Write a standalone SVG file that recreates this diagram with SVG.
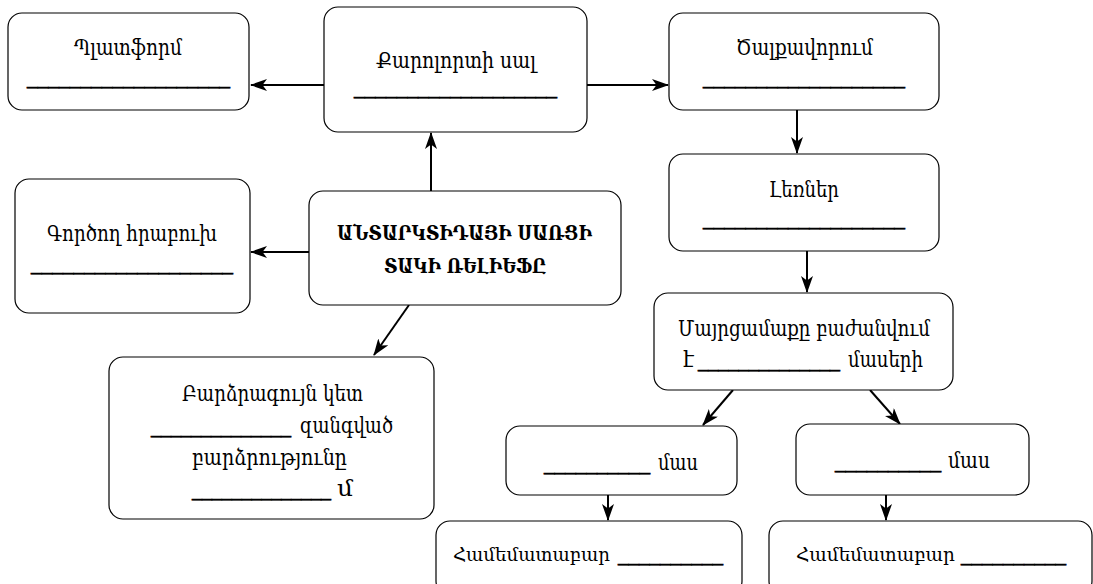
<svg xmlns="http://www.w3.org/2000/svg" width="1093" height="584" viewBox="0 0 1093 584">
<style>
.box{fill:#fff;stroke:#000;stroke-width:1.2}
.t{font-family:"DejaVu Serif","DejaVu Sans",serif;font-size:23px;fill:#000;text-anchor:start}
.b{font-family:"DejaVu Serif","DejaVu Sans",serif;font-size:21px;font-weight:bold;fill:#000}
.us{font-family:"DejaVu Sans",sans-serif;font-size:20px;fill:#000;stroke:#000;stroke-width:0.5}
.s{font-size:18px}
.c{stroke:#000;stroke-width:2;fill:none;marker-end:url(#ah)}
</style>
<defs>
<marker id="ah" markerUnits="userSpaceOnUse" markerWidth="17" markerHeight="12" viewBox="0 0 17 12" refX="16" refY="6" orient="auto">
<path d="M0,0 L17,6 L0,12 L4.5,6 Z" fill="#000"/>
</marker>
</defs>
<rect width="1093" height="584" fill="#fff"/>
<g id="connectors">
<line class="c" x1="324" y1="85" x2="251" y2="85"/>
<line class="c" x1="587" y1="85" x2="668" y2="85"/>
<line class="c" x1="431" y1="191" x2="431" y2="133"/>
<line class="c" x1="309" y1="252" x2="251" y2="252"/>
<line class="c" x1="409" y1="305" x2="374" y2="355"/>
<line class="c" x1="797" y1="110" x2="797" y2="153"/>
<line class="c" x1="807" y1="251" x2="807" y2="292"/>
<line class="c" x1="733" y1="390" x2="703" y2="425"/>
<line class="c" x1="870" y1="390" x2="900" y2="424"/>
<line class="c" x1="608" y1="495" x2="608" y2="520"/>
<line class="c" x1="886" y1="495" x2="886" y2="520"/>
</g>
<g id="platform">
<rect class="box" x="8" y="13" width="241" height="97" rx="14"/>
<text class="t" x="74" y="55" textLength="108" lengthAdjust="spacingAndGlyphs">Պլատֆորմ</text>
<text class="us" x="27" y="84" textLength="203" lengthAdjust="spacingAndGlyphs">___________________</text>
</g>
<g id="plate">
<rect class="box" x="324" y="7" width="263" height="125" rx="14"/>
<text class="t" x="376" y="68" textLength="160" lengthAdjust="spacingAndGlyphs">Քարոլորտի սալ</text>
<text class="us" x="354" y="94" textLength="203" lengthAdjust="spacingAndGlyphs">___________________</text>
</g>
<g id="folding">
<rect class="box" x="669" y="13" width="270" height="97" rx="14"/>
<text class="t" x="736" y="55" textLength="137" lengthAdjust="spacingAndGlyphs">Ծալքավորում</text>
<text class="us" x="703" y="84" textLength="202" lengthAdjust="spacingAndGlyphs">___________________</text>
</g>
<g id="volcano">
<rect class="box" x="15" y="179" width="235" height="134" rx="14"/>
<text class="t" x="47" y="241" textLength="170" lengthAdjust="spacingAndGlyphs">Գործող հրաբուխ</text>
<text class="us" x="31" y="270" textLength="202" lengthAdjust="spacingAndGlyphs">___________________</text>
</g>
<g id="center">
<rect class="box" x="309" y="191" width="312" height="114" rx="14"/>
<text class="b" x="337" y="240" textLength="255" lengthAdjust="spacingAndGlyphs">ԱՆՏԱՐԿՏԻԴԱՅԻ ՍԱՌՑԻ</text>
<text class="b" x="384" y="273" textLength="162" lengthAdjust="spacingAndGlyphs">ՏԱԿԻ ՌԵԼԻԵՖԸ</text>
</g>
<g id="highest">
<rect class="box" x="109" y="357" width="325" height="162" rx="14"/>
<text class="t" x="182" y="401" textLength="181" lengthAdjust="spacingAndGlyphs">Բարձրագույն կետ</text>
<text class="us" x="151" y="433" textLength="140" lengthAdjust="spacingAndGlyphs">______________</text>
<text class="t" x="300" y="433" textLength="93" lengthAdjust="spacingAndGlyphs">զանգված</text>
<text class="t" x="192" y="465" textLength="155" lengthAdjust="spacingAndGlyphs">բարձրությունը</text>
<text class="us" x="192" y="496" textLength="139" lengthAdjust="spacingAndGlyphs">______________</text>
<text class="t" x="337" y="496" textLength="16" lengthAdjust="spacingAndGlyphs">մ</text>
</g>
<g id="mountains">
<rect class="box" x="669" y="154" width="270" height="97" rx="14"/>
<text class="t" x="769" y="197" textLength="70" lengthAdjust="spacingAndGlyphs">Լեռներ</text>
<text class="us" x="703" y="225" textLength="202" lengthAdjust="spacingAndGlyphs">___________________</text>
</g>
<g id="mainland">
<rect class="box" x="654" y="293" width="299" height="97" rx="14"/>
<text class="t" x="678" y="336" textLength="252" lengthAdjust="spacingAndGlyphs">Մայրցամաքը բաժանվում</text>
<text class="t" x="683" y="367" textLength="11" lengthAdjust="spacingAndGlyphs">է</text>
<text class="us" x="698" y="367" textLength="142" lengthAdjust="spacingAndGlyphs">______________</text>
<text class="t" x="848" y="367" textLength="75" lengthAdjust="spacingAndGlyphs">մասերի</text>
</g>
<g id="part-left">
<rect class="box" x="506" y="426" width="231" height="69" rx="14"/>
<text class="us" x="544" y="470" textLength="106" lengthAdjust="spacingAndGlyphs">__________</text>
<text class="t" x="658" y="470" textLength="40" lengthAdjust="spacingAndGlyphs">մաս</text>
</g>
<g id="part-right">
<rect class="box" x="796" y="424" width="233" height="71" rx="14"/>
<text class="us" x="835" y="468" textLength="106" lengthAdjust="spacingAndGlyphs">__________</text>
<text class="t" x="948" y="468" textLength="42" lengthAdjust="spacingAndGlyphs">մաս</text>
</g>
<g id="relative-left">
<rect class="box" x="436" y="521" width="306" height="74" rx="14"/>
<text class="t s" x="453" y="561" textLength="157" lengthAdjust="spacingAndGlyphs">Համեմատաբար</text>
<text class="us" x="618" y="561" textLength="105" lengthAdjust="spacingAndGlyphs">__________</text>
</g>
<g id="relative-right">
<rect class="box" x="769" y="521" width="323" height="74" rx="14"/>
<text class="t s" x="796" y="561" textLength="159" lengthAdjust="spacingAndGlyphs">Համեմատաբար</text>
<text class="us" x="961" y="561" textLength="105" lengthAdjust="spacingAndGlyphs">__________</text>
</g>
</svg>
